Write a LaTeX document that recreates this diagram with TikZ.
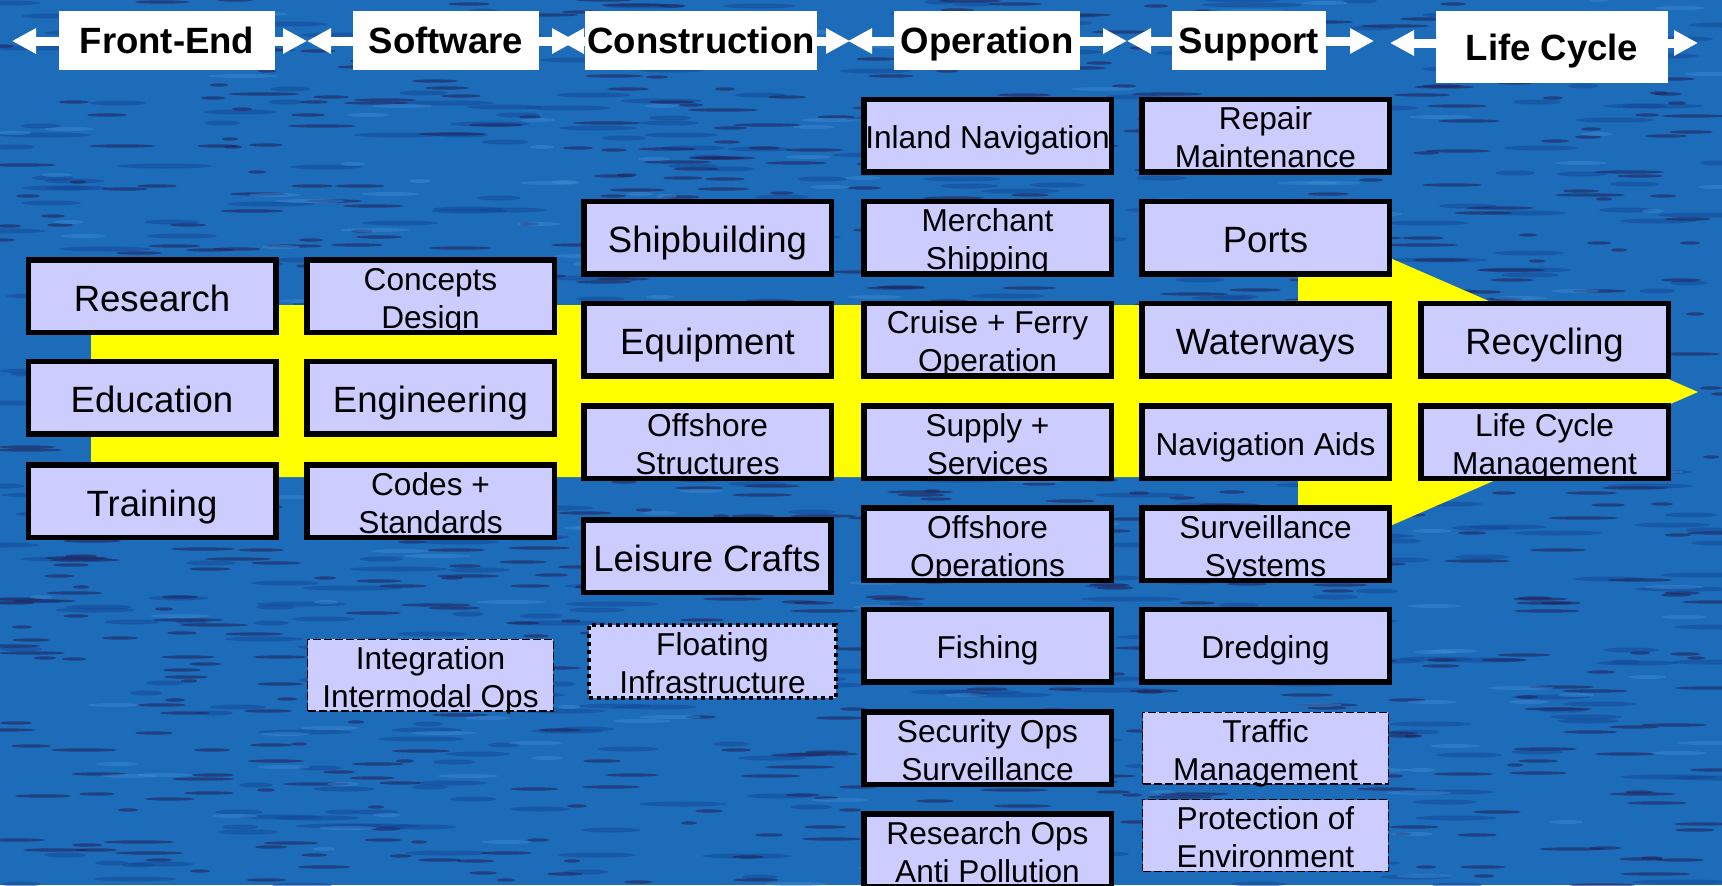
\documentclass[tikz,border=0pt]{standalone}
\usepackage{fontspec}
\setmainfont{Liberation Sans}
\usetikzlibrary{arrows.meta}
\definecolor{lav}{RGB}{204,204,255}
\definecolor{sea}{RGB}{28,108,185}
\definecolor{seadark}{RGB}{35,30,85}
\definecolor{seamid}{RGB}{20,70,150}
\definecolor{sealight}{RGB}{70,145,215}
\definecolor{arrowyellow}{RGB}{255,255,0}
\newcommand\bxt[1]{\rule{0pt}{1.05em}#1\rule[-0.21em]{0pt}{0pt}}
\newcommand\mkbox[6]{\node[#1] (#2) at (#3,#4) {};\node[#5] (#2-t) at (#2.center) {\bxt{#6}};}
\begin{document}
\begin{tikzpicture}[x=0.1mm,y=-0.1mm,
  lbox/.style={draw=black, line width=0.55mm, fill=lav, minimum width=24.75mm, minimum height=7.25mm, inner sep=0pt},
  dashbox/.style={draw=black, line width=0.13mm, dash pattern=on 0.8mm off 0.3mm, fill=lav, minimum width=24.57mm, minimum height=7.17mm, inner sep=0pt},
  dotbox/.style={draw=black, line width=0.4mm, dash pattern=on 0.4mm off 0.4mm, fill=lav, minimum width=24.7mm, minimum height=7.3mm, inner sep=0pt},
  bigtxt/.style={font=\fontsize{10.4}{12.5}\selectfont, align=center, inner sep=0pt},
  smalltxt/.style={font=\fontsize{9}{10.8}\selectfont, align=center, inner sep=0pt},
  headbox/.style={fill=white, inner sep=0pt, text depth=0pt, font=\bfseries\fontsize{10.4}{12.5}\selectfont},
  headarrow/.style={draw=white, line width=0.9mm, {Triangle[length=2.4mm,width=2.4mm]}-{Triangle[length=2.4mm,width=2.4mm]}}
]
\useasboundingbox (0,0) rectangle (1722,885);
% background water
\fill[sea] (0,0) rectangle (1722,885);
\pgfmathsetseed{12345}
\begin{scope}
\clip (0,0) rectangle (1722,885);
\foreach \i in {1,...,500}{
  \pgfmathsetmacro\sx{random(0,1722)}
  \pgfmathsetmacro\sy{random(0,885)}
  \pgfmathsetmacro\sw{random(15,50)/10}
  \fill[seamid, opacity=0.5] (\sx,\sy) ellipse [x radius=\sw mm, y radius=0.25mm];
}
\foreach \i in {1,...,850}{
  \pgfmathsetmacro\sx{random(0,1722)}
  \pgfmathsetmacro\sy{random(0,885)}
  \pgfmathsetmacro\sw{random(8,35)/10}
  \fill[seadark, opacity=0.55] (\sx,\sy) ellipse [x radius=\sw mm, y radius=0.17mm];
}
\foreach \i in {1,...,200}{
  \pgfmathsetmacro\sx{random(0,1722)}
  \pgfmathsetmacro\sy{random(0,885)}
  \pgfmathsetmacro\sw{random(10,35)/10}
  \fill[sealight, opacity=0.4] (\sx,\sy) ellipse [x radius=\sw mm, y radius=0.2mm];
}
\end{scope}
% yellow arrow
\fill[arrowyellow] (91,305) -- (1298,305) -- (1298,218) -- (1698,392) -- (1298,566) -- (1298,477) -- (91,477) -- cycle;
% header arrows
\coordinate (fe-l) at (12,41);   \coordinate (fe-r) at (307,41);
\coordinate (sw-l) at (307,41);  \coordinate (sw-r) at (576,41);
\coordinate (co-l) at (560,41);  \coordinate (co-r) at (850,41);
\coordinate (op-l) at (848,41);  \coordinate (op-r) at (1127,41);
\coordinate (su-l) at (1127,41); \coordinate (su-r) at (1374,41);
\coordinate (lc-l) at (1390,43); \coordinate (lc-r) at (1698,43);
\draw[headarrow] (fe-l) -- (fe-r);
\draw[headarrow] (sw-l) -- (sw-r);
\draw[headarrow] (co-l) -- (co-r);
\draw[headarrow] (op-l) -- (op-r);
\draw[headarrow] (su-l) -- (su-r);
\draw[headarrow] (lc-l) -- (lc-r);
\node[headbox, minimum width=21.6mm, minimum height=5.9mm] (h-fe) at (167,40.5) {Front-End};
\node[headbox, minimum width=18.6mm, minimum height=5.9mm] (h-sw) at (446,40.5) {Software};
\node[headbox, minimum width=23.2mm, minimum height=5.9mm] (h-co) at (701,40.5) {Construction};
\node[headbox, minimum width=18.6mm, minimum height=5.9mm] (h-op) at (987,40.5) {Operation};
\node[headbox, minimum width=15.4mm, minimum height=5.9mm] (h-su) at (1249,40.5) {Support};
\node[headbox, minimum width=23.2mm, minimum height=7.2mm] (h-lc) at (1552,47) {Life Cycle};
% column 1
\mkbox{lbox}{research}{152}{296}{bigtxt}{Research}
\mkbox{lbox}{education}{152}{397.5}{bigtxt}{Education}
\mkbox{lbox}{training}{152}{501}{bigtxt}{Training}
% column 2
\mkbox{lbox}{concepts}{430.5}{296}{smalltxt}{Concepts\\Design}
\mkbox{lbox}{engineering}{430.5}{397.5}{bigtxt}{Engineering}
\mkbox{lbox}{codes}{430.5}{501}{smalltxt}{Codes +\\Standards}
\mkbox{dashbox}{integration}{430.5}{675}{smalltxt}{Integration\\Intermodal Ops}
% column 3
\mkbox{lbox}{shipbuilding}{707.5}{237.5}{bigtxt}{Shipbuilding}
\mkbox{lbox}{equipment}{707.5}{339.5}{bigtxt}{Equipment}
\mkbox{lbox}{offstruct}{707.5}{442}{smalltxt}{Offshore\\Structures}
\mkbox{lbox}{leisure}{707}{556}{bigtxt}{Leisure Crafts}
\mkbox{dotbox}{floating}{712.5}{661.5}{smalltxt}{Floating\\Infrastructure}
% column 4
\mkbox{lbox}{inland}{987.5}{135.5}{smalltxt}{Inland Navigation}
\mkbox{lbox}{merchant}{987.5}{237.5}{smalltxt}{Merchant\\Shipping}
\mkbox{lbox}{cruise}{987.5}{339.5}{smalltxt}{Cruise + Ferry\\Operation}
\mkbox{lbox}{supply}{987.5}{442}{smalltxt}{Supply +\\Services}
\mkbox{lbox}{offops}{987.5}{544}{smalltxt}{Offshore\\Operations}
\mkbox{lbox}{fishing}{987.5}{645.5}{smalltxt}{Fishing}
\mkbox{lbox}{security}{987.5}{748}{smalltxt}{Security Ops\\Surveillance}
\mkbox{lbox}{researchops}{987.5}{850}{smalltxt}{Research Ops\\Anti Pollution}
% column 5
\mkbox{lbox}{repair}{1265.5}{135.5}{smalltxt}{Repair\\Maintenance}
\mkbox{lbox}{ports}{1265.5}{237.5}{bigtxt}{Ports}
\mkbox{lbox}{waterways}{1265.5}{339.5}{bigtxt}{Waterways}
\mkbox{lbox}{navaids}{1265.5}{442}{smalltxt}{Navigation Aids}
\mkbox{lbox}{survsys}{1265.5}{544}{smalltxt}{Surveillance\\Systems}
\mkbox{lbox}{dredging}{1265.5}{645.5}{smalltxt}{Dredging}
\mkbox{dashbox}{traffic}{1265.5}{748}{smalltxt}{Traffic\\Management}
\mkbox{dashbox}{protection}{1265.5}{835.5}{smalltxt}{Protection of\\Environment}
% column 6
\mkbox{lbox}{recycling}{1544.5}{339.5}{bigtxt}{Recycling}
\mkbox{lbox}{lcm}{1544.5}{442}{smalltxt}{Life Cycle\\Management}
\end{tikzpicture}
\end{document}
